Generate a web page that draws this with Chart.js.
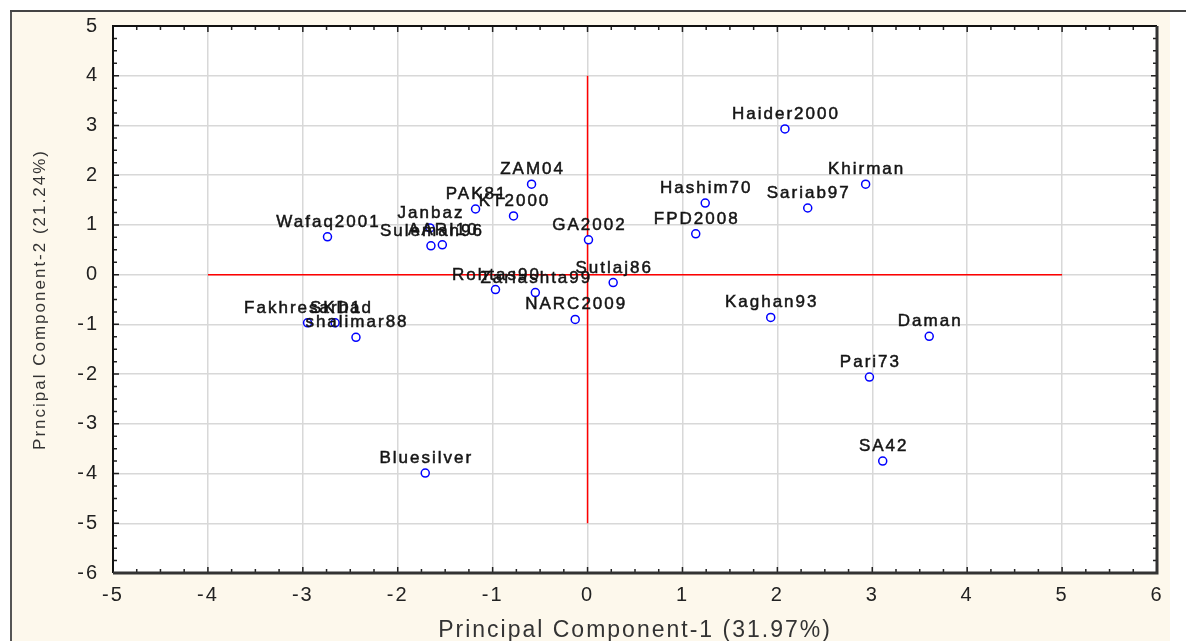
<!DOCTYPE html>
<html>
<head>
<meta charset="utf-8">
<script src="https://cdn.jsdelivr.net/npm/chart.js@4.4.1/dist/chart.umd.min.js"></script>
<style>
  html, body { margin: 0; padding: 0; background: #fff; }
  #wrap { position: relative; width: 1186px; height: 641px; overflow: hidden; }
  #frame { position: absolute; left: 10px; top: 12px; width: 1158px; height: 640px; background: #fdf8ec; border-left: 2px solid #555; }
  #topline { position: absolute; left: 10px; top: 10px; width: 1176px; height: 2px; background: #444; }
  canvas { position: absolute; left: 0; top: 0; }
</style>
</head>
<body>
<div id="wrap">
  <div id="frame"></div>
  <div id="topline"></div>
  <canvas id="chartCanvas" width="1186" height="641"></canvas>
</div>
<script>
// genotypes and their scores on the first two components
const varieties = [
  "Haider2000", "Khirman", "Sariab97", "Hashim70", "FPD2008", "GA2002",
  "ZAM04", "KT2000", "PAK81", "Janbaz", "Suleman96", "AARI10", "Wafaq2001",
  "Fakhresarhad", "SKD1", "shalimar88", "Rohtas90", "Zarlashta99", "Sutlaj86",
  "NARC2009", "Kaghan93", "Daman", "Pari73", "SA42", "Bluesilver"
];
const pc1 = [
  2.08, 2.93, 2.32, 1.24, 1.14, 0.01,
  -0.59, -0.78, -1.18, -1.66, -1.65, -1.53, -2.74,
  -2.95, -2.66, -2.44, -0.97, -0.55, 0.27,
  -0.13, 1.93, 3.60, 2.97, 3.11, -1.71
];
const pc2 = [
  2.93, 1.82, 1.34, 1.44, 0.82, 0.70,
  1.82, 1.18, 1.32, 0.94, 0.58, 0.60, 0.76,
  -0.97, -0.97, -1.26, -0.30, -0.36, -0.16,
  -0.90, -0.86, -1.24, -2.06, -3.75, -3.99
];

// red reference axes
const hLineX = [-4, 5];
const hLineY = [0, 0];
const vLineX = [0, 0];
const vLineY = [-5, 4];

const xMin = -5, xMax = 6;
const yMin = -6, yMax = 5;

const fontName = '"Liberation Sans", Arial, sans-serif';

const puntos = pc1.map((v, i) => ({ x: v, y: pc2[i] }));
const lineaH = hLineX.map((v, i) => ({ x: v, y: hLineY[i] }));
const lineaV = vLineX.map((v, i) => ({ x: v, y: vLineY[i] }));

const fondoPlot = {
  id: "fondoPlot",
  beforeDraw(chart) {
    const { ctx, chartArea: a } = chart;
    // wider text like the original export
    ctx.letterSpacing = "2px";
    ctx.save();
    ctx.fillStyle = "#fff";
    ctx.fillRect(a.left, a.top, a.right - a.left, a.bottom - a.top);
    ctx.restore();
  }
};

const marcoPlot = {
  id: "marcoPlot",
  afterDraw(chart) {
    const { ctx, chartArea: a } = chart;
    const sx = chart.scales.x, sy = chart.scales.y;
    ctx.save();
    ctx.strokeStyle = "#222";
    ctx.lineWidth = 1.5;
    // ticks inward, major and 3 minor per step
    for (let v = xMin; v <= xMax; v += 0.25) {
      const px = sx.getPixelForValue(v);
      const len = Number.isInteger(v) ? 6 : 4;
      ctx.beginPath();
      ctx.moveTo(px, a.bottom); ctx.lineTo(px, a.bottom - len);
      ctx.moveTo(px, a.top); ctx.lineTo(px, a.top + len);
      ctx.stroke();
    }
    for (let v = yMin; v <= yMax; v += 0.25) {
      const py = sy.getPixelForValue(v);
      const len = Number.isInteger(v) ? 6 : 4;
      ctx.beginPath();
      ctx.moveTo(a.left, py); ctx.lineTo(a.left + len, py);
      ctx.moveTo(a.right, py); ctx.lineTo(a.right - len, py);
      ctx.stroke();
    }
    ctx.strokeStyle = "#111";
    ctx.lineWidth = 2;
    ctx.beginPath();
    ctx.moveTo(a.left, a.bottom); ctx.lineTo(a.left, a.top); ctx.lineTo(a.right, a.top);
    ctx.stroke();
    ctx.strokeStyle = "#333";
    ctx.lineWidth = 3;
    ctx.beginPath();
    ctx.moveTo(a.right, a.top); ctx.lineTo(a.right, a.bottom); ctx.lineTo(a.left, a.bottom);
    ctx.stroke();
    ctx.restore();
  }
};

const etiquetas = {
  id: "etiquetas",
  afterDatasetsDraw(chart) {
    const ctx = chart.ctx;
    const meta = chart.getDatasetMeta(0);
    ctx.save();
    ctx.font = "17px " + fontName;
    ctx.letterSpacing = "2px";
    ctx.fillStyle = "#151515";
    ctx.strokeStyle = "#151515";
    ctx.lineWidth = 0.5;
    ctx.textAlign = "center";
    ctx.textBaseline = "alphabetic";
    meta.data.forEach((el, i) => {
      ctx.fillText(varieties[i], el.x + 1, el.y - 10);
      ctx.strokeText(varieties[i], el.x + 1, el.y - 10);
    });
    ctx.restore();
  }
};

const ctx = document.getElementById("chartCanvas").getContext("2d");
const chart = new Chart(ctx, {
  type: "scatter",
  data: {
    datasets: [
      {
        label: "Genotipos",
        data: puntos,
        pointStyle: "circle",
        pointRadius: 4,
        borderColor: "#0000ff",
        backgroundColor: "#fff",
        borderWidth: 1.5,
        order: 1
      },
      {
        type: "line",
        data: lineaH,
        borderColor: "#ff0000",
        borderWidth: 1.5,
        pointRadius: 0,
        showLine: true,
        order: 2
      },
      {
        type: "line",
        data: lineaV,
        borderColor: "#ff0000",
        borderWidth: 1.5,
        pointRadius: 0,
        showLine: true,
        order: 2
      }
    ]
  },
  options: {
    responsive: false,
    animation: false,
    layout: { padding: { top: 24, right: 29, left: 0, bottom: 0 } },
    plugins: {
      legend: { display: false },
      tooltip: { enabled: false }
    },
    scales: {
      x: {
        type: "linear",
        min: xMin,
        max: xMax,
        afterFit: s => { s.height = 68; },
        ticks: { stepSize: 1, color: "#222", padding: 10, font: { family: fontName, size: 20 } },
        grid: { color: "#d8d8d8", lineWidth: 1.5, drawTicks: false },
        border: { display: false },
        title: {
          display: true,
          text: "Principal Component-1 (31.97%)",
          color: "#333",
          font: { family: fontName, size: 23 },
          padding: { top: 0, bottom: -3 }
        }
      },
      y: {
        type: "linear",
        min: yMin,
        max: yMax,
        afterFit: s => { s.width = 113; },
        ticks: { stepSize: 1, color: "#222", padding: 14, font: { family: fontName, size: 20 } },
        grid: { color: "#d8d8d8", lineWidth: 1.5, drawTicks: false },
        border: { display: false },
        title: {
          display: true,
          text: "Prncipal Component-2 (21.24%)",
          color: "#333",
          font: { family: fontName, size: 17 },
          padding: { top: 30, bottom: 0 }
        }
      }
    }
  },
  plugins: [fondoPlot, marcoPlot, etiquetas]
});
</script>
</body>
</html>
